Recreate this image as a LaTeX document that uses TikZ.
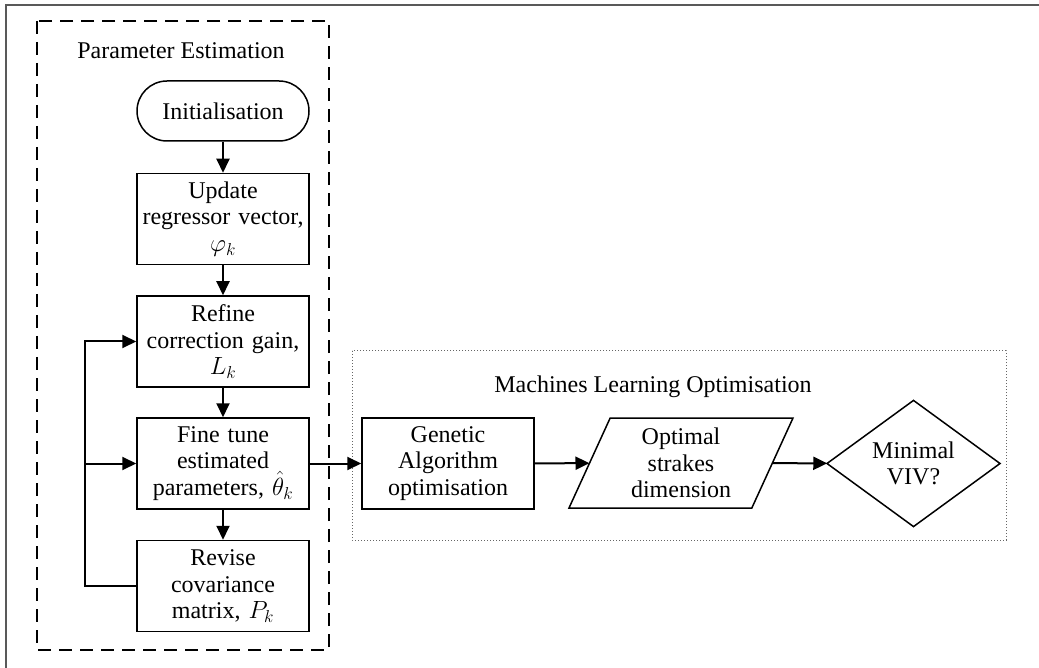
\documentclass[tikz,border=0pt]{standalone}
\usepackage{fontspec}
\setmainfont{Liberation Serif}
\usepackage{amsmath}
\usetikzlibrary{shapes.geometric, arrows.meta, positioning}
\tikzstyle{arrow}     = [line width=2pt,-{Triangle[length=14pt,width=13pt]}]
\tikzstyle{edge}      = [line width=2pt]
\tikzstyle{block}     = [draw, line width=1.5pt, rectangle, minimum width=172pt, minimum height=91pt, text width=166pt, inner sep=2pt, align=center, font=\fontsize{24}{26.5}\selectfont]
\tikzstyle{terminal}  = [draw, line width=1.5pt, rectangle, rounded corners=30pt, minimum width=172pt, minimum height=60pt, align=center, font=\fontsize{24}{26.5}\selectfont]
\tikzstyle{io}        = [draw, line width=1.5pt, trapezium, trapezium left angle=59.5, trapezium right angle=120.5, trapezium stretches body, minimum width=224pt, minimum height=90pt, inner sep=0pt, outer sep=0pt, align=center, font=\fontsize{24}{26.5}\selectfont]
\tikzstyle{decision}  = [draw, line width=1.5pt, diamond, minimum width=173pt, minimum height=92pt, inner sep=0pt, outer sep=0pt, align=center, font=\fontsize{24}{26.5}\selectfont]
\tikzstyle{title}     = [inner sep=0pt, font=\fontsize{24}{26.5}\selectfont]

\begin{document}
\begin{tikzpicture}[x=1pt,y=-1pt]

    \useasboundingbox (0,0) rectangle (1039,668);

    % outer frame
    \draw[gray!70!black, line width=2pt] (6,668) -- (6,5) -- (1039,5);

    % groups
    \draw[line width=1.8pt, dash pattern=on 13pt off 8pt] (37,21) rectangle (329,650);
    \draw[gray!80!black, line width=1pt, dotted] (352,351) rectangle (1006,540);
    \node[title] (PE) at (181,51) {Parameter Estimation};
    \node[title] (MLO) at (653,387) {Machines Learning Optimisation};

    \node[terminal] (Init)     at (223,111) {Initialisation};
    \node[block]    (Update)   at (223,219) {Update\\regressor vector,\\$\varphi_k$};
    \node[block]    (Refine)   at (223,341.5) {Refine\\correction gain,\\$L_k$};
    \node[block]    (Tune)     at (223,463.5) {Fine tune\\estimated\\parameters, $\hat{\theta}_k$};
    \node[block]    (Revise)   at (223,586) {Revise\\covariance\\matrix, $P_k$};

    \node[block]    (GA)       at (448,463.5) {Genetic\\Algorithm\\optimisation};
    \node[io]       (Opt)      at (681,463) {Optimal\\strakes\\dimension};
    \node[decision] (Dec)      at (913.5,463.5) {Minimal\\VIV?};

    \coordinate (FbB) at (85,586);
    \coordinate (FbM) at (85,463.5);

    \draw[arrow] (Init) -- (Update);
    \draw[arrow] (Update) -- (Refine);
    \draw[arrow] (Refine) -- (Tune);
    \draw[arrow] (Tune) -- (Revise);
    \draw[arrow] (Revise.west) -- (FbB) |- (Refine.west);
    \draw[arrow] (FbM) -- (Tune.west);

    \draw[arrow] (Tune) -- (GA);
    \draw[arrow] (GA) -- (Opt);
    \draw[arrow] (Opt) -- (Dec);

\end{tikzpicture}
\end{document}
